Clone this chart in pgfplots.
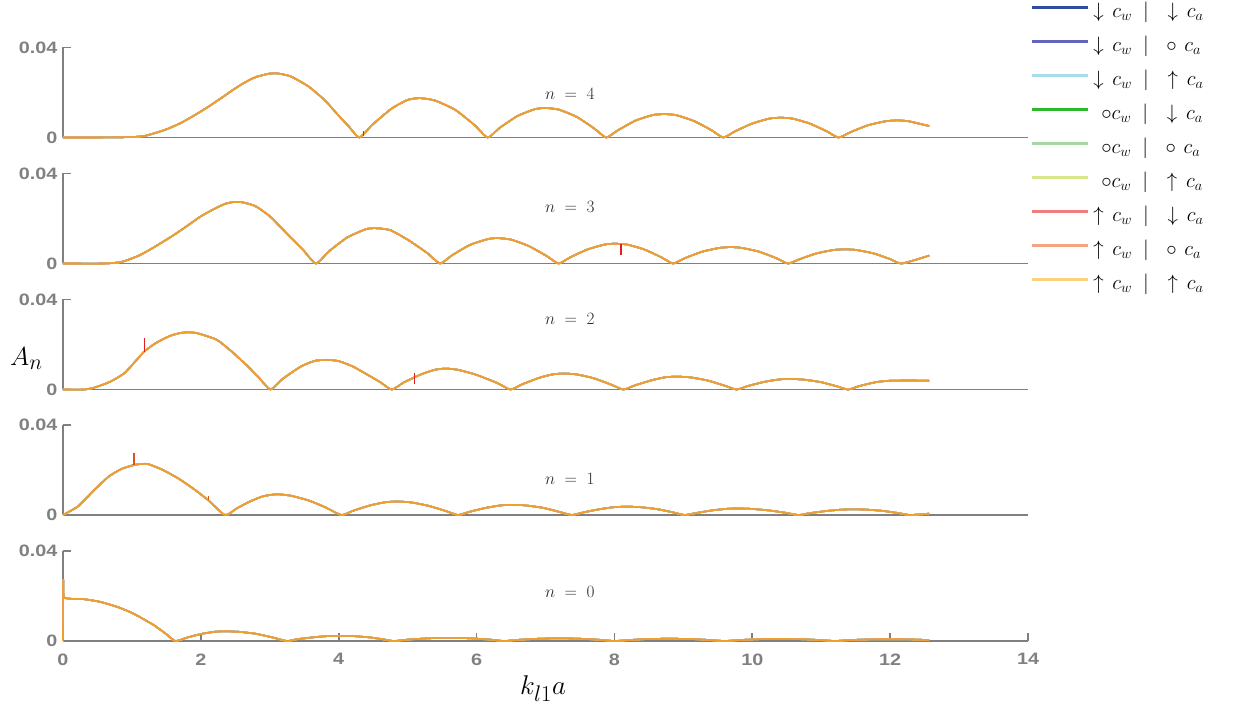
\documentclass[border=0pt]{standalone}
\usepackage{fontspec}
\usepackage{graphicx}
\usepackage{pgfplots}
\usepackage{pgfplotstable}
\pgfplotsset{compat=1.18}
\newfontfamily\tickfont{Liberation Sans}[FakeStretch=1.2]
\definecolor{axgray}{HTML}{808080}
\definecolor{txtgray}{HTML}{2E2E2E}
\definecolor{serA}{HTML}{2F4C9E}
\definecolor{serB}{HTML}{6464BE}
\definecolor{serC}{HTML}{A8DCEB}
\definecolor{serD}{HTML}{2EB82E}
\definecolor{serE}{HTML}{A6D8A6}
\definecolor{serF}{HTML}{DAE68C}
\definecolor{serG}{HTML}{F07C7C}
\definecolor{serH}{HTML}{F4A482}
\definecolor{serI}{HTML}{FAD27E}
\definecolor{curveor}{HTML}{EF9F28}
\definecolor{spikered}{HTML}{E02020}
\definecolor{spikeor}{HTML}{D9531A}

% n = 4
\pgfplotstableread{
x y
0 0
0.5 0
1.0 0.0002
1.2 0.0008
1.48 0.0034
1.7 0.0063
1.92 0.0101
2.1 0.0135
2.30 0.0176
2.45 0.0208
2.59 0.0236
2.7 0.0255
2.8 0.0269
2.98 0.0283
3.1 0.0285
3.3 0.0272
3.56 0.0227
3.8 0.0165
3.99 0.0100
4.15 0.0048
4.30 0
4.486 0.0056
4.765 0.0128
5.0 0.0167
5.18 0.0175
5.4 0.0164
5.695 0.0122
5.974 0.0054
6.16 0
6.332 0.0042
6.59 0.0095
6.848 0.0126
7.0 0.0131
7.192 0.0124
7.45 0.0092
7.708 0.0040
7.88 0
8.05 0.0032
8.305 0.0075
8.56 0.0100
8.73 0.0104
8.90 0.0099
9.155 0.0073
9.41 0.0032
9.58 0
9.747 0.0027
9.998 0.0062
10.248 0.0084
10.415 0.0088
10.582 0.0084
10.833 0.0062
11.083 0.0027
11.25 0
11.42 0.0023
11.675 0.0054
11.93 0.0072
12.10 0.0076
12.27 0.0072
12.566 0.0051
}\dataFour

% n = 3
\pgfplotstableread{
x y
0 0
0.6 0
0.85 0.0007
1.1 0.0035
1.33 0.0074
1.6 0.0125
1.82 0.0171
2.0 0.0210
2.21 0.0245
2.35 0.0265
2.47 0.0273
2.6 0.0272
2.79 0.0255
3.0 0.0210
3.27 0.0126
3.47 0.0065
3.67 0
3.85 0.0052
4.12 0.0115
4.39 0.0152
4.53 0.0157
4.75 0.0148
5.02 0.0102
5.29 0.0045
5.47 0
5.642 0.0036
5.9 0.0082
6.158 0.0108
6.30 0.0113
6.502 0.0106
6.76 0.0077
7.018 0.0033
7.19 0
7.356 0.0027
7.605 0.0062
7.854 0.0084
8.0 0.0088
8.186 0.0084
8.435 0.0062
8.684 0.0027
8.85 0
9.017 0.0023
9.268 0.0052
9.518 0.0069
9.685 0.0073
9.852 0.0069
10.103 0.0052
10.353 0.0023
10.52 0
10.685 0.0019
10.933 0.0045
11.18 0.0060
11.345 0.0063
11.51 0.0060
11.758 0.0045
12.005 0.0019
12.17 0
12.566 0.0035
}\dataThree

% n = 2
\pgfplotstableread{
x y
0 0
0.3 0
0.45 0.0008
0.68 0.0034
0.9 0.0075
1.17 0.0166
1.35 0.0207
1.55 0.0238
1.7 0.0251
1.82 0.0254
1.95 0.0250
2.23 0.0221
2.45 0.0168
2.66 0.0109
2.85 0.0050
3.01 0
3.186 0.0047
3.45 0.0102
3.65 0.0127
3.83 0.0132
4.0 0.0126
4.2 0.0103
4.41 0.0067
4.6 0.0033
4.77 0
4.942 0.0031
5.2 0.0068
5.4 0.0088
5.55 0.0093
5.72 0.0088
5.98 0.0067
6.3 0.0029
6.49 0
6.654 0.0022
6.9 0.0051
7.1 0.0067
7.26 0.0071
7.45 0.0067
7.7 0.0050
7.95 0.0022
8.13 0
8.294 0.0018
8.54 0.0041
8.75 0.0055
8.92 0.0057
9.1 0.0054
9.35 0.0040
9.6 0.0017
9.77 0
9.932 0.0015
10.175 0.0034
10.4 0.0045
10.56 0.0047
10.74 0.0044
10.99 0.0033
11.23 0.0014
11.39 0
11.55 0.0015
11.8 0.0033
12.0 0.0039
12.3 0.0040
12.566 0.0039
}\dataTwo

% n = 1
\pgfplotstableread{
x y
0 0
0.22 0.0039
0.45 0.0110
0.66 0.0170
0.85 0.0205
1.04 0.0223
1.15 0.0227
1.24 0.0226
1.45 0.0200
1.67 0.0163
1.9 0.0115
2.11 0.0065
2.35 0
2.52 0.0029
2.69 0.0057
2.9 0.0083
3.1 0.0092
3.3 0.0086
3.56 0.0065
3.8 0.0035
4.04 0
4.21 0.0019
4.46 0.0043
4.68 0.0057
4.85 0.0060
5.05 0.0056
5.3 0.0041
5.55 0.0018
5.73 0
5.895 0.0014
6.14 0.0032
6.36 0.0043
6.52 0.0045
6.7 0.0043
6.96 0.0032
7.2 0.0014
7.38 0
7.54 0.0011
7.79 0.0026
8.0 0.0035
8.18 0.0037
8.37 0.0035
8.62 0.0026
8.86 0.0011
9.02 0
9.19 0.0009
9.43 0.0021
9.65 0.0028
9.82 0.0029
10.0 0.0027
10.25 0.0020
10.5 0.0009
10.67 0
10.83 0.0008
11.08 0.0018
11.3 0.0024
11.47 0.0025
11.65 0.0024
11.9 0.0018
12.13 0.0008
12.29 0
12.566 0.0006
}\dataOne

% n = 0
\pgfplotstableread{
x y
0 0
0.005 0.0270
0.02 0.0193
0.3 0.0186
0.54 0.0174
0.8 0.0150
1.02 0.0122
1.31 0.0072
1.5 0.0030
1.63 0
1.8 0.0015
2.0 0.0031
2.2 0.0041
2.35 0.0043
2.55 0.0041
2.8 0.0032
3.05 0.0015
3.25 0
3.4 0.0008
3.65 0.0017
3.85 0.0022
4.0 0.0023
4.2 0.0022
4.45 0.0016
4.65 0.0007
4.8 0
5.0 0.0006
5.3 0.0012
5.6 0.0014
5.9 0.0012
6.2 0.0006
6.4 0
6.6 0.0005
6.9 0.0010
7.2 0.0012
7.5 0.0010
7.8 0.0005
8.0 0
8.2 0.0004
8.5 0.0009
8.8 0.0010
9.1 0.0009
9.4 0.0004
9.6 0
9.8 0.0004
10.1 0.0008
10.4 0.0009
10.7 0.0008
11.0 0.0004
11.2 0
11.4 0.0004
11.7 0.0007
12.0 0.0008
12.3 0.0007
12.566 0.0004
}\dataZero

\newcommand{\allseries}[1]{%
  \addplot[color=serA, crv] table {#1};
  \addplot[color=serB, crv] table {#1};
  \addplot[color=serC, crv] table {#1};
  \addplot[color=serD, crv] table {#1};
  \addplot[color=serE, crv] table {#1};
  \addplot[color=serF, crv] table {#1};
  \addplot[color=serG, crv] table {#1};
  \addplot[color=serH, crv] table {#1};
  \addplot[color=curveor, crv] table {#1};
}

\pgfplotsset{
  crv/.style={line width=1.6pt, forget plot, smooth, tension=0.35},
  panel/.style={
    scale only axis, width=965pt, height=90pt,
    xmin=0, xmax=14, ymin=0, ymax=0.04,
    axis x line=bottom, axis y line=left,
    axis line style={axgray, line width=1.6pt, -},
    every tick/.style={axgray, line width=1.6pt},
    major tick length=8pt,
    tick align=inside,
    scaled y ticks=false,
    ytick={0,0.04}, yticklabels={0,0.04},
    xtick=\empty,
    ticklabel style={font=\tickfont\bfseries\fontsize{16.5}{16.5}\selectfont, text=axgray},
    yticklabel style={xshift=-2pt},
    xticklabel style={yshift=-9pt},
    clip=false,
  },
}
\newcommand{\nlab}[1]{$n\;=\;#1$}
\tikzset{nlabel/.style={anchor=base west, inner sep=0pt, text=txtgray, font=\fontsize{17.28}{17.28}\selectfont}}

\begin{document}
\begin{tikzpicture}
\useasboundingbox (0,0) rectangle (1238pt,706pt);

% n = 4 (with legend)
\begin{axis}[panel, at={(63pt,568.5pt)}, anchor=south west,
  legend cell align=left,
  legend image code/.code={\fill[#1] (0pt,5.3pt) rectangle (55pt,6.7pt);},
  legend style={at={(1.0038,1.483)}, anchor=north west, draw=none, fill=none,
    inner sep=0pt, row sep=16pt, column sep=6pt,
    nodes={inner sep=0pt, text height=13pt, text depth=5pt},
    font=\fontsize{20.74}{20.74}\selectfont}]
\allseries{\dataFour}
\addplot[color=spikered, line width=1.4pt, forget plot] coordinates {(4.36,0.0008) (4.36,0.0030)};
\node[nlabel] at (axis cs:6.99,0.0167) {\nlab{4}};
\addlegendimage{color=serA}\addlegendentry{$\downarrow\hspace{3pt}c_w\hspace{11pt}|\hspace{13pt}\downarrow\hspace{3pt}c_a$}
\addlegendimage{color=serB}\addlegendentry{$\downarrow\hspace{3pt}c_w\hspace{11pt}|\hspace{13pt}\circ\hspace{3pt}c_a$}
\addlegendimage{color=serC}\addlegendentry{$\downarrow\hspace{3pt}c_w\hspace{11pt}|\hspace{13pt}\uparrow\hspace{3pt}c_a$}
\addlegendimage{color=serD}\addlegendentry{$\hspace{8pt}\circ c_w\hspace{11pt}|\hspace{13pt}\downarrow\hspace{3pt}c_a$}
\addlegendimage{color=serE}\addlegendentry{$\hspace{8pt}\circ c_w\hspace{11pt}|\hspace{13pt}\circ\hspace{3pt}c_a$}
\addlegendimage{color=serF}\addlegendentry{$\hspace{8pt}\circ c_w\hspace{11pt}|\hspace{13pt}\uparrow\hspace{3pt}c_a$}
\addlegendimage{color=serG}\addlegendentry{$\uparrow\hspace{3pt}c_w\hspace{11pt}|\hspace{13pt}\downarrow\hspace{3pt}c_a$}
\addlegendimage{color=serH}\addlegendentry{$\uparrow\hspace{3pt}c_w\hspace{11pt}|\hspace{13pt}\circ\hspace{3pt}c_a$}
\addlegendimage{color=serI}\addlegendentry{$\uparrow\hspace{3pt}c_w\hspace{11pt}|\hspace{13pt}\uparrow\hspace{3pt}c_a$}
\end{axis}

% n = 3
\begin{axis}[panel, at={(63pt,442.5pt)}, anchor=south west]
\allseries{\dataThree}
\addplot[color=spikered, line width=1.8pt, forget plot] coordinates {(8.10,0.0086) (8.10,0.0037)};
\node[nlabel] at (axis cs:6.99,0.0225) {\nlab{3}};
\end{axis}

% n = 2
\begin{axis}[panel, at={(63pt,316.5pt)}, anchor=south west]
\allseries{\dataTwo}
\addplot[color=spikered, line width=1.6pt, forget plot] coordinates {(1.18,0.0166) (1.18,0.0231)};
\addplot[color=spikered, line width=1.6pt, forget plot] coordinates {(5.10,0.0075) (5.10,0.0024)};
\node[nlabel] at (axis cs:6.99,0.0288) {\nlab{2}};
\end{axis}

% n = 1
\begin{axis}[panel, at={(63pt,191pt)}, anchor=south west]
\allseries{\dataOne}
\addplot[color=spikeor, line width=1.6pt, forget plot] coordinates {(1.03,0.0222) (1.03,0.0275)};
\addplot[color=spikeor, line width=1.4pt, forget plot] coordinates {(2.11,0.0065) (2.11,0.0085)};
\node[nlabel] at (axis cs:6.99,0.0137) {\nlab{1}};
\end{axis}

% n = 0
\begin{axis}[panel, at={(63pt,65pt)}, anchor=south west,
  xtick={0,2,4,6,8,10,12,14}, xticklabels={0,2,4,6,8,10,12,14}]
\allseries{\dataZero}
\node[nlabel] at (axis cs:6.99,0.0192) {\nlab{0}};
\end{axis}

\node[anchor=base west, inner sep=0pt, font=\fontsize{24.88}{24.88}\selectfont] at (10pt,340pt) {\scalebox{1.05}{$A_n$}};
\node[anchor=base west, inner sep=0pt, font=\fontsize{24.88}{24.88}\selectfont] at (520pt,11pt) {\scalebox{1.09}{$k_{l1}a$}};
\end{tikzpicture}
\end{document}
